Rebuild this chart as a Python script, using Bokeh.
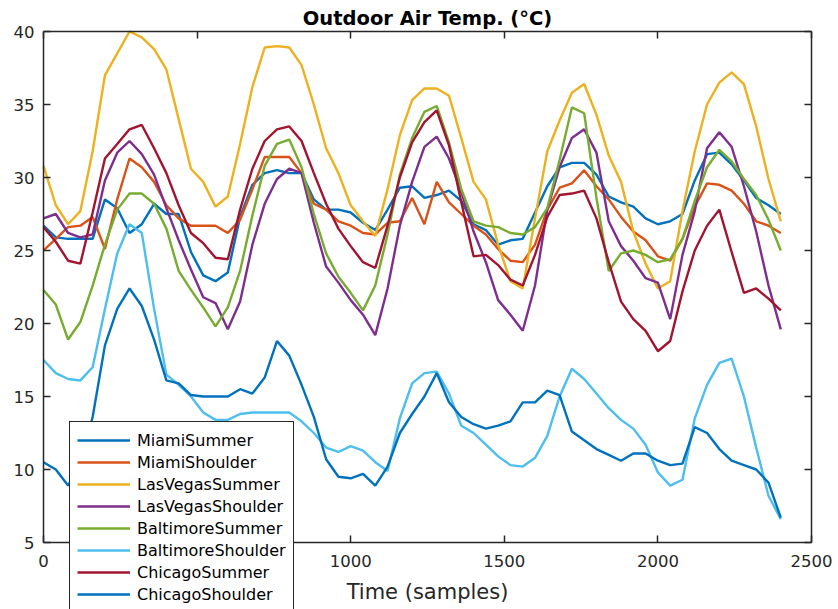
from bokeh.plotting import figure
from bokeh.models import Range1d, LinearAxis, SingleIntervalTicker, Legend, LegendItem, Label
from bokeh.embed import file_html
from bokeh.resources import INLINE

# sample index grid (time in samples)
samples = list(range(0, 2401, 40))

MiamiSummer = [26.7, 25.9, 25.8, 25.8, 25.8, 28.5, 27.9, 26.2, 26.8, 28.2,
               27.5, 27.5, 24.9, 23.3, 22.9, 23.5, 27.3, 29.5, 30.3, 30.5,
               30.3, 30.3, 28.5, 27.8, 27.8, 27.6, 26.9, 26.4, 27.8, 29.3,
               29.4, 28.6, 28.8, 29.1, 28.4, 26.8, 26.4, 25.4, 25.7, 25.8,
               27.6, 29.4, 30.7, 31.0, 31.0, 30.2, 28.7, 28.3, 28.0, 27.2,
               26.8, 27.0, 27.5, 29.8, 31.6, 31.7, 30.9, 29.8, 28.6, 28.1,
               27.5]
MiamiShoulder = [25.0, 25.8, 26.6, 26.7, 27.3, 25.1, 28.5, 31.3, 30.7, 29.7,
                 28.1, 27.2, 26.7, 26.7, 26.7, 26.2, 27.1, 29.2, 31.4, 31.4,
                 31.4, 30.3, 28.2, 27.8, 27.0, 26.7, 26.2, 26.1, 26.9, 27.0,
                 28.6, 26.8, 29.7, 28.3, 27.5, 26.7, 26.1, 25.1, 24.3, 24.2,
                 25.4, 27.8, 29.3, 29.6, 30.5, 29.4, 28.5, 27.3, 26.3, 25.7,
                 24.6, 24.3, 25.8, 28.0, 29.6, 29.5, 29.1, 28.2, 27.0, 26.7,
                 26.2]
LasVegasSummer = [30.8, 28.1, 26.8, 27.7, 31.8, 37.0, 38.5, 40.0, 39.6, 38.8,
                  37.4, 34.0, 30.6, 29.7, 28.0, 28.7, 32.3, 36.2, 38.9, 39.0,
                  38.9, 37.7, 35.0, 32.0, 30.3, 28.1, 27.0, 26.0, 29.2, 32.9,
                  35.3, 36.1, 36.1, 35.6, 32.7, 29.7, 28.5, 25.4, 22.9, 22.4,
                  27.2, 31.8, 33.9, 35.8, 36.4, 34.3, 31.5, 29.7, 26.3, 24.1,
                  22.4, 22.9, 27.7, 31.8, 35.0, 36.5, 37.2, 36.4, 33.5, 29.9,
                  27.0]
LasVegasShoulder = [27.2, 27.5, 26.2, 25.9, 26.1, 29.8, 31.7, 32.5, 31.6, 30.2,
                    27.9, 25.7, 23.7, 21.8, 21.4, 19.6, 21.5, 25.4, 28.2, 29.9,
                    30.6, 30.3, 26.9, 23.9, 22.8, 21.6, 20.6, 19.2, 22.4, 26.7,
                    29.7, 32.1, 32.8, 31.3, 29.0, 26.3, 24.2, 21.6, 20.6, 19.5,
                    22.6, 27.8, 30.7, 32.7, 33.3, 31.7, 27.0, 25.3, 24.3, 23.1,
                    22.8, 20.3, 24.7, 27.7, 32.0, 33.1, 32.1, 29.4, 26.3, 22.6,
                    19.6]
BaltimoreSummer = [22.3, 21.3, 18.9, 20.1, 22.6, 25.4, 27.8, 28.9, 28.9, 28.2,
                   26.5, 23.6, 22.3, 21.1, 19.8, 21.1, 23.6, 27.4, 30.8, 32.3,
                   32.6, 30.7, 27.5, 24.8, 23.2, 22.1, 20.9, 22.6, 26.1, 30.2,
                   32.7, 34.5, 34.9, 32.4, 29.2, 27.0, 26.7, 26.6, 26.2, 26.1,
                   26.6, 27.9, 31.2, 34.8, 34.4, 28.6, 23.6, 24.8, 25.0, 24.7,
                   24.2, 24.4, 25.8, 28.4, 30.7, 31.9, 31.1, 29.9, 28.8, 27.1,
                   25.0]
BaltimoreShoulder = [17.5, 16.6, 16.2, 16.1, 17.0, 21.0, 24.8, 26.8, 26.2, 21.0,
                     16.5, 15.8, 15.0, 13.9, 13.4, 13.4, 13.8, 13.9, 13.9, 13.9,
                     13.9, 13.3, 12.5, 11.5, 11.2, 11.6, 11.3, 10.5, 9.9, 13.5,
                     15.9, 16.6, 16.7, 15.2, 13.0, 12.5, 11.7, 10.9, 10.3, 10.2,
                     10.8, 12.3, 15.0, 16.9, 16.2, 15.2, 14.2, 13.4, 12.8, 11.7,
                     9.8, 8.9, 9.3, 13.5, 15.8, 17.3, 17.6, 15.0, 11.5, 8.2,
                     6.6]
ChicagoSummer = [26.6, 25.6, 24.3, 24.1, 27.6, 31.3, 32.3, 33.3, 33.6, 32.0,
                 30.3, 28.1, 26.2, 25.5, 24.5, 24.4, 27.8, 30.6, 32.5, 33.3,
                 33.5, 32.5, 30.3, 28.2, 26.5, 25.3, 24.2, 23.8, 26.7, 30.0,
                 32.4, 33.8, 34.6, 32.2, 28.3, 24.6, 24.7, 24.0, 23.0, 22.6,
                 24.7, 27.3, 28.8, 28.9, 29.1, 27.2, 24.2, 21.5, 20.3, 19.5,
                 18.1, 18.8, 22.2, 25.0, 26.7, 27.8, 24.9, 22.1, 22.4, 21.7,
                 20.9]
ChicagoShoulder = [10.5, 10.0, 8.9, 10.4, 13.6, 18.5, 21.0, 22.4, 21.2, 18.9,
                   16.1, 15.9, 15.1, 15.0, 15.0, 15.0, 15.5, 15.2, 16.3, 18.8,
                   17.8, 15.8, 13.6, 10.7, 9.5, 9.4, 9.7, 8.9, 10.2, 12.5,
                   13.8, 15.0, 16.6, 14.6, 13.6, 13.1, 12.8, 13.0, 13.3, 14.6,
                   14.6, 15.4, 15.1, 12.6, 12.0, 11.4, 11.0, 10.6, 11.1, 11.1,
                   10.6, 10.3, 10.4, 12.9, 12.5, 11.4, 10.6, 10.3, 10.0, 9.1,
                   6.7]

series_names = ["MiamiSummer", "MiamiShoulder", "LasVegasSummer", "LasVegasShoulder",
                "BaltimoreSummer", "BaltimoreShoulder", "ChicagoSummer", "ChicagoShoulder"]
series_values = [MiamiSummer, MiamiShoulder, LasVegasSummer, LasVegasShoulder,
                 BaltimoreSummer, BaltimoreShoulder, ChicagoSummer, ChicagoShoulder]
series_colors = ["#0072BD", "#D95319", "#EDB120", "#7E2F8E",
                 "#77AC30", "#4DBEEE", "#A2142F", "#0072BD"]

title_text = "Outdoor Air Temp. (\u00b0C)"
x_label = "Time (samples)"
x_min, x_max, x_step = 0, 2500, 500
y_min, y_max, y_step = 5, 40, 5

AX = "#262626"
FONT = "DejaVu Sans"

# Canvas and where the axes box sits on it (pixels); the drawing frame covers the
# whole canvas so that tick labels and the legend can sit outside the axes box.
W, H = 838, 609
box_left, box_right, box_top, box_bottom = 43, 811, 31, 542
xu = (box_right - box_left) / (x_max - x_min)
yu = (box_bottom - box_top) / (y_max - y_min)
x_range = Range1d(x_min - box_left / xu, x_max + (W - box_right) / xu)
y_range = Range1d(y_min - (H - box_bottom) / yu, y_max + box_top / yu)

p = figure(width=W, height=H, output_backend="svg", toolbar_location=None,
           x_range=x_range, y_range=y_range,
           min_border=0, min_border_left=0, min_border_right=0,
           min_border_top=0, min_border_bottom=0,
           background_fill_color="white", border_fill_color="white")
p.xgrid.visible = False
p.ygrid.visible = False
p.outline_line_color = None

renderers = []
for name, vals, col in zip(series_names, series_values, series_colors):
    r = p.line(samples, vals, line_color=col, line_width=2.4)
    renderers.append(r)

def style_axis(ax, show_labels=True):
    ax.major_tick_in = 7
    ax.major_tick_out = 0
    ax.minor_tick_in = 0
    ax.minor_tick_out = 0
    ax.axis_line_color = AX
    ax.axis_line_width = 1.5
    ax.major_tick_line_color = AX
    ax.major_tick_line_width = 1.5
    if show_labels:
        ax.major_label_text_font = FONT
        ax.major_label_text_font_size = "16.5px"
        ax.major_label_text_color = AX
    else:
        ax.major_label_text_font_size = "0px"
        ax.major_label_text_color = None
        ax.major_label_standoff = 0

xaxis = p.xaxis[0]
xaxis.ticker = SingleIntervalTicker(interval=x_step, num_minor_ticks=0)
style_axis(xaxis)
xaxis.fixed_location = y_min
xaxis.bounds = (x_min, x_max)
xaxis.major_label_standoff = 12
xaxis.axis_label = x_label
xaxis.axis_label_text_font = FONT
xaxis.axis_label_text_font_size = "21px"
xaxis.axis_label_text_font_style = "normal"
xaxis.axis_label_text_color = AX
xaxis.axis_label_standoff = 10

yaxis = p.yaxis[0]
yaxis.ticker = SingleIntervalTicker(interval=y_step, num_minor_ticks=0)
style_axis(yaxis)
yaxis.fixed_location = x_min
yaxis.bounds = (y_min, y_max)
yaxis.major_label_standoff = 9

top_axis = LinearAxis(ticker=SingleIntervalTicker(interval=x_step, num_minor_ticks=0),
                      fixed_location=y_max, bounds=(x_min, x_max))
style_axis(top_axis, show_labels=False)
p.add_layout(top_axis, "above")

right_axis = LinearAxis(ticker=SingleIntervalTicker(interval=y_step, num_minor_ticks=0),
                        fixed_location=x_max, bounds=(y_min, y_max))
style_axis(right_axis, show_labels=False)
p.add_layout(right_axis, "right")

title = Label(x=(x_min + x_max) / 2, y=y_max, y_offset=13, text=title_text,
              text_align="center", text_baseline="alphabetic",
              text_font=FONT, text_font_size="19.5px", text_font_style="bold",
              text_color="black")
p.add_layout(title)

items = [LegendItem(label=n, renderers=[r]) for n, r in zip(series_names, renderers)]
legend = Legend(items=items, location=(69, -4), padding=7, spacing=0,
                label_height=22, glyph_height=22, glyph_width=53, label_standoff=7,
                label_text_font=FONT, label_text_font_size="16px", label_text_color="black",
                border_line_color=AX, border_line_width=1, border_line_alpha=1.0,
                background_fill_color="white", background_fill_alpha=1.0, margin=0)
p.add_layout(legend, "center")

open("out.html", "w").write(file_html(p, INLINE))
